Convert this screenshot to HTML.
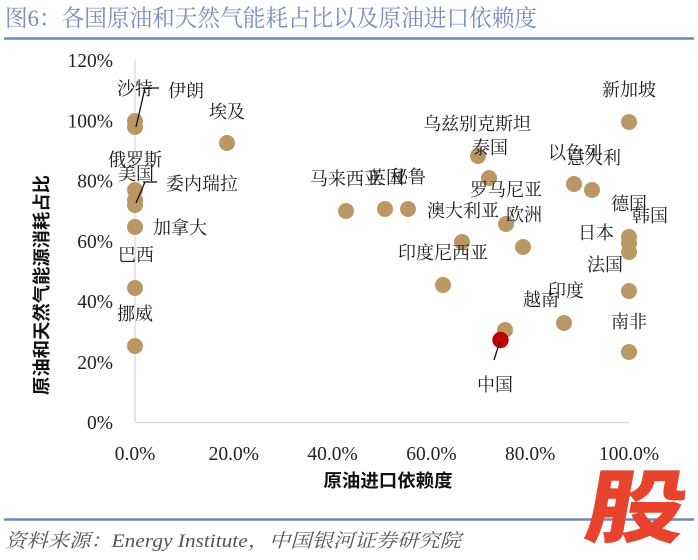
<!DOCTYPE html>
<html>
<head>
<meta charset="utf-8">
<style>
  html,body{margin:0;padding:0;background:#fff;}
  svg{display:block;}
  .lbl{font-family:"Liberation Serif","Noto Serif CJK SC",serif;font-size:18px;fill:#1a1a1a;}
  .tick{font-family:"Liberation Serif",serif;font-size:19.5px;fill:#222;}
</style>
</head>
<body>
<svg width="698" height="560" viewBox="0 0 698 560" xmlns="http://www.w3.org/2000/svg">
  <rect width="698" height="560" fill="#fff"/>
  <!-- Title -->
  <text x="5" y="26" font-family="Liberation Serif, 'Noto Serif CJK SC', serif" font-size="23.5" fill="#7a8cc0" textLength="532" lengthAdjust="spacingAndGlyphs">图6：各国原油和天然气能耗占比以及原油进口依赖度</text>
  <line x1="4" y1="38.5" x2="694" y2="38.5" stroke="#6f86b8" stroke-width="2.5"/>

  <!-- Axes -->
  <line x1="135" y1="60" x2="135" y2="422" stroke="#d9d9d9" stroke-width="1.3"/>
  <line x1="135" y1="422.5" x2="629" y2="422.5" stroke="#d9d9d9" stroke-width="1.3"/>

  <!-- Y tick labels -->
  <g class="tick" text-anchor="end">
    <text x="113" y="67">120%</text>
    <text x="113" y="127.4">100%</text>
    <text x="113" y="187.7">80%</text>
    <text x="113" y="248">60%</text>
    <text x="113" y="308">40%</text>
    <text x="113" y="369">20%</text>
    <text x="113" y="429">0%</text>
  </g>
  <!-- X tick labels -->
  <g class="tick" text-anchor="middle">
    <text x="135" y="460">0.0%</text>
    <text x="233.8" y="460">20.0%</text>
    <text x="332.6" y="460">40.0%</text>
    <text x="431.4" y="460">60.0%</text>
    <text x="530.2" y="460">80.0%</text>
    <text x="629" y="460">100.0%</text>
  </g>

  <!-- Axis titles -->
  <text transform="translate(48,285) rotate(-90)" text-anchor="middle" font-family="'Noto Sans CJK SC', sans-serif" font-weight="bold" font-size="18" fill="#111" textLength="220" lengthAdjust="spacingAndGlyphs">原油和天然气能源消耗占比</text>
  <text x="388" y="487" text-anchor="middle" font-family="'Noto Sans CJK SC', sans-serif" font-weight="bold" font-size="18" fill="#111" textLength="129" lengthAdjust="spacingAndGlyphs">原油进口依赖度</text>

  <!-- Dots -->
  <g fill="#bb9766">
    <circle cx="135" cy="121" r="8"/>
    <circle cx="135" cy="127" r="8"/>
    <circle cx="227" cy="143" r="8"/>
    <circle cx="135" cy="190" r="8"/>
    <circle cx="135" cy="200" r="8"/>
    <circle cx="135" cy="205" r="8"/>
    <circle cx="135" cy="227" r="8"/>
    <circle cx="135" cy="288" r="8"/>
    <circle cx="135" cy="346" r="8"/>
    <circle cx="478" cy="156" r="8"/>
    <circle cx="489" cy="178" r="8"/>
    <circle cx="346" cy="211" r="8"/>
    <circle cx="385" cy="209" r="8"/>
    <circle cx="408" cy="209" r="8"/>
    <circle cx="506" cy="224" r="8"/>
    <circle cx="523" cy="247" r="8"/>
    <circle cx="462" cy="242" r="8"/>
    <circle cx="443" cy="285" r="8"/>
    <circle cx="629" cy="122" r="8"/>
    <circle cx="574" cy="184" r="8"/>
    <circle cx="592" cy="190" r="8"/>
    <circle cx="629" cy="237" r="8"/>
    <circle cx="629" cy="243" r="8"/>
    <circle cx="629" cy="252" r="8"/>
    <circle cx="629" cy="291" r="8"/>
    <circle cx="564" cy="323" r="8"/>
    <circle cx="629" cy="352" r="8"/>
    <circle cx="505" cy="330" r="8"/>
  </g>
  <circle cx="500.5" cy="340" r="8.2" fill="#c00000"/>

  <!-- Leader lines -->
  <g stroke="#111" stroke-width="1.3" fill="none">
    <polyline points="159,88 143,88"/>
    <line x1="145" y1="88" x2="136" y2="127"/>
    <polyline points="157,182 143,182"/>
    <line x1="145" y1="182" x2="136" y2="203"/>
    <line x1="500" y1="341" x2="494" y2="360"/>
  </g>

  <!-- Data labels -->
  <g class="lbl">
    <text x="117" y="95">沙特</text>
    <text x="168" y="97">伊朗</text>
    <text x="209" y="118">埃及</text>
    <text x="108" y="166">俄罗斯</text>
    <text x="118" y="180">美国</text>
    <text x="166" y="190">委内瑞拉</text>
    <text x="153" y="234">加拿大</text>
    <text x="118" y="261">巴西</text>
    <text x="117" y="320">挪威</text>
    <text x="423" y="130">乌兹别克斯坦</text>
    <text x="472" y="154">泰国</text>
    <text x="310" y="185">马来西亚</text>
    <text x="368" y="184">英国</text>
    <text x="390" y="183">秘鲁</text>
    <text x="470" y="196">罗马尼亚</text>
    <text x="427" y="217">澳大利亚</text>
    <text x="506" y="221">欧洲</text>
    <text x="398" y="259">印度尼西亚</text>
    <text x="602" y="96">新加坡</text>
    <text x="548" y="159">以色列</text>
    <text x="567" y="164">意大利</text>
    <text x="611" y="210">德国</text>
    <text x="632" y="222">韩国</text>
    <text x="578" y="239">日本</text>
    <text x="587" y="271">法国</text>
    <text x="548" y="297">印度</text>
    <text x="523" y="306">越南</text>
    <text x="611" y="328">南非</text>
    <text x="477" y="391">中国</text>
  </g>

  <!-- Bottom line and source -->
  <line x1="4" y1="519.5" x2="694" y2="519.5" stroke="#6f86b8" stroke-width="2.5"/>
  <text x="5" y="547" font-family="Liberation Serif, 'Noto Serif CJK SC', serif" font-style="italic" font-size="19" fill="#555" textLength="456" lengthAdjust="spacingAndGlyphs">资料来源：Energy Institute，中国银河证券研究院</text>

  <!-- Logo -->
  <text transform="translate(632,536) scale(1,0.8) skewX(-8)" text-anchor="middle" font-family="'Noto Sans CJK SC', sans-serif" font-weight="900" font-size="100" fill="#e8432c">股</text>
</svg>
</body>
</html>
